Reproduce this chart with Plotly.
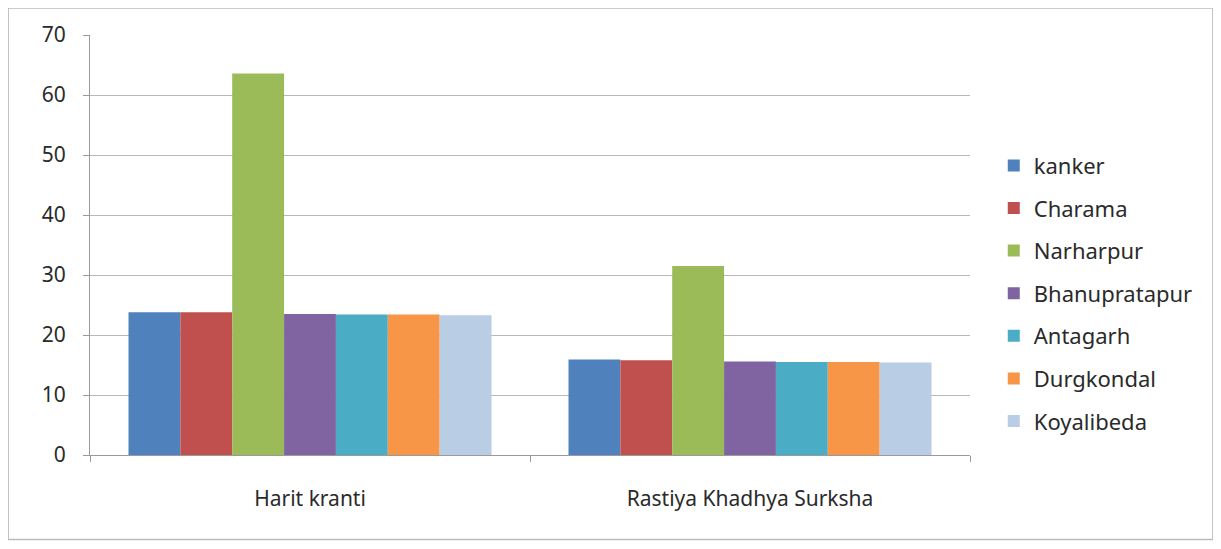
import plotly.graph_objects as go

categories = ["Harit kranti", "Rastiya Khadhya Surksha"]
blocks = ["kanker", "Charama", "Narharpur", "Bhanupratapur", "Antagarh", "Durgkondal", "Koyalibeda"]
values = {
    "kanker":        [23.8, 15.9],
    "Charama":       [23.8, 15.8],
    "Narharpur":     [63.6, 31.5],
    "Bhanupratapur": [23.5, 15.6],
    "Antagarh":      [23.4, 15.5],
    "Durgkondal":    [23.4, 15.5],
    "Koyalibeda":    [23.3, 15.4],
}
colors = ["#4F81BD", "#C0504D", "#9BBB59", "#8064A2", "#4BACC6", "#F79646", "#B9CDE5"]
y_ticks = [0, 10, 20, 30, 40, 50, 60, 70]

FONT = "Noto Sans"

fig = go.Figure()
for name, col in zip(blocks, colors):
    fig.add_trace(go.Bar(x=categories, y=values[name], name=name,
                         marker=dict(color=col, line=dict(width=0)),
                         legendgroup=name))

# page body has an 8px offset, so margins are reduced by 8px
fig.update_layout(
    width=1221, height=549,
    margin=dict(l=82, r=259, t=25, b=102),
    paper_bgcolor="white", plot_bgcolor="white",
    barmode="group", bargap=0.175, bargroupgap=0,
    font=dict(family=FONT, size=16, color="#2a2a2a"),
    legend=dict(x=1.027, y=0.739, xanchor="left", yanchor="top",
                font=dict(size=22, color="#2a2a2a"), tracegroupgap=11,
                itemwidth=30),
    showlegend=True,
)
fig.update_yaxes(range=[0, 70], tickvals=y_ticks, showgrid=True, gridcolor="#b8b8b8",
                 gridwidth=1, showline=True, linecolor="#9a9a9a", ticks="outside",
                 ticklen=6, tickcolor="#9a9a9a", ticklabelstandoff=13,
                 tickfont=dict(size=21, color="#2a2a2a"), zeroline=False)
fig.update_xaxes(showline=True, linecolor="#9a9a9a", ticks="outside", tickson="boundaries",
                 ticklen=6, tickcolor="#9a9a9a", ticklabelstandoff=25,
                 tickfont=dict(size=21, color="#2a2a2a"))
fig.add_shape(type="rect", xref="paper", yref="paper",
              x0=-0.093, x1=1.276, y0=-0.201, y1=1.064,
              line=dict(color="#bbbbbb", width=1.5), fillcolor="rgba(0,0,0,0)")

fig.write_html("out.html")
